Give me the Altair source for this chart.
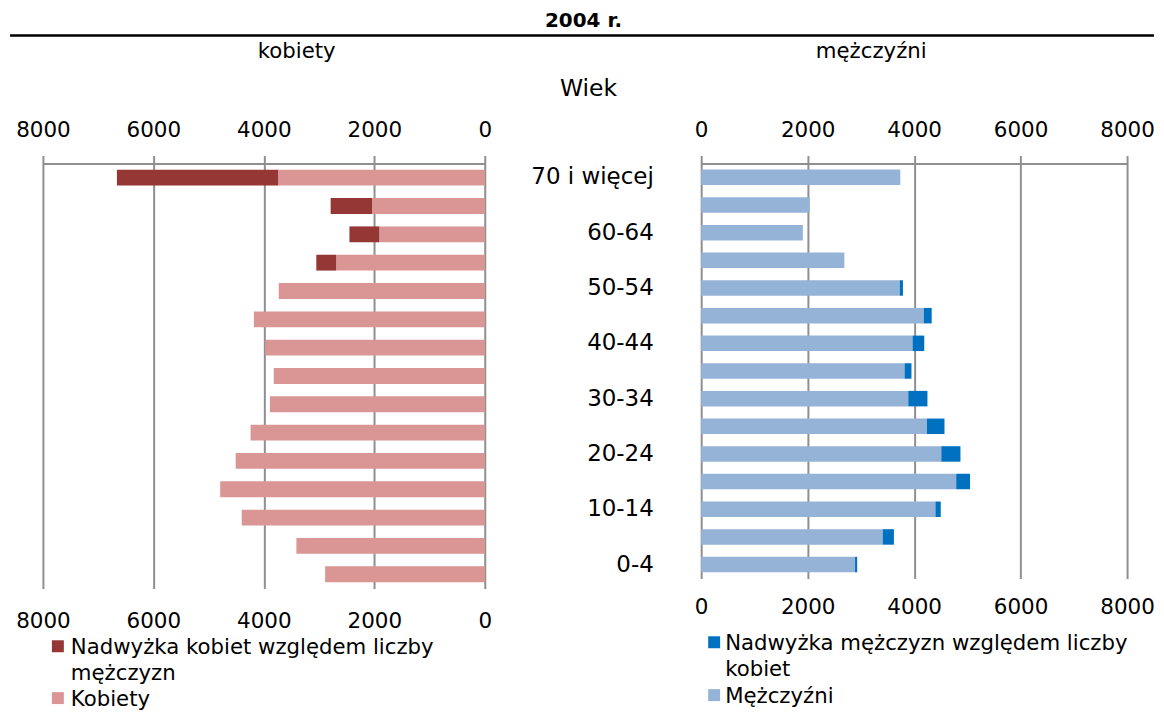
import altair as alt
import pandas as pd

# ---- data ----
ages = ["70 i więcej", "65-69", "60-64", "55-59", "50-54", "45-49", "40-44",
        "35-39", "30-34", "25-29", "20-24", "15-19", "10-14", "5-9", "0-4"]
women = [6660, 2790, 2450, 3050, 3730, 4180, 3970, 3820, 3890, 4240, 4510, 4790, 4400, 3410, 2890]
men = [3740, 2040, 1910, 2690, 3790, 4330, 4190, 3950, 4250, 4570, 4870, 5050, 4500, 3620, 2930]
x_ticks = [0, 2000, 4000, 6000, 8000]
shown_age_labels = ages[::2]

title_text = "2004 r."
left_title = "kobiety"
right_title = "mężczyźni"
axis_title = "Wiek"
left_series = ["Kobiety", "Nadwyżka kobiet względem liczby mężczyzn"]
right_series = ["Mężczyźni", "Nadwyżka mężczyzn względem liczby kobiet"]
left_legend = ["Nadwyżka kobiet względem liczby\nmężczyzn", "Kobiety"]
right_legend = ["Nadwyżka mężczyzn względem liczby\nkobiet", "Mężczyźni"]
left_colors = ["#D99694", "#953735"]
right_colors = ["#95B3D7", "#0070C0"]

FONT = "DejaVu Sans"
GRID = "#8f8f8f"

# ---- tables ----
left_rows, right_rows = [], []
for a, w, m in zip(ages, women, men):
    left_rows.append({"age": a, "series": left_series[0], "value": min(w, m), "ord": 0})
    left_rows.append({"age": a, "series": left_series[1], "value": max(w - m, 0), "ord": 1})
    right_rows.append({"age": a, "series": right_series[0], "value": min(w, m), "ord": 0})
    right_rows.append({"age": a, "series": right_series[1], "value": max(m - w, 0), "ord": 1})
df_left = pd.DataFrame(left_rows)
df_right = pd.DataFrame(right_rows)


def top_axis():
    return alt.Axis(orient="top", values=x_ticks, format="d", title=None,
                    labelFont=FONT, labelFontSize=21.5, labelColor="black",
                    labelPadding=14, labelFlush=False, labelOverlap=False,
                    grid=True, gridColor=GRID, gridWidth=2,
                    domain=True, domainColor=GRID, domainWidth=2,
                    ticks=True, tickColor=GRID, tickWidth=2, tickSize=8)


def bottom_axis(pad):
    return alt.Axis(orient="bottom", values=x_ticks, format="d", title=None,
                    labelFont=FONT, labelFontSize=21.5, labelColor="black",
                    labelPadding=pad, labelFlush=False, labelOverlap=False,
                    grid=False, domain=False, ticks=False, tickSize=0)


def bars(df, series, colors, reverse, xaxis, yaxis, opacity=1.0):
    return alt.Chart(df).mark_bar(opacity=opacity).encode(
        x=alt.X("value:Q", stack="zero",
                scale=alt.Scale(domain=[0, 8000], reverse=reverse, nice=False),
                axis=xaxis),
        y=alt.Y("age:N", sort=ages,
                scale=alt.Scale(paddingInner=0.44, paddingOuter=0.22),
                axis=yaxis),
        color=alt.Color("series:N", scale=alt.Scale(domain=series, range=colors), legend=None),
        order=alt.Order("ord:Q"),
    )


def text_at(s, x, y, size=21.3, weight="normal", align="center", baseline="middle"):
    return alt.Chart(pd.DataFrame({"t": [s]})).mark_text(
        font=FONT, fontSize=size, fontWeight=weight, align=align, baseline=baseline,
        color="black", lineBreak="\n", lineHeight=26.5
    ).encode(x=alt.value(x), y=alt.value(y), text="t:N")


def square_at(color, x, y):
    return alt.Chart(pd.DataFrame({"t": [0]})).mark_square(
        size=144, color=color, opacity=1, filled=True
    ).encode(x=alt.value(x), y=alt.value(y))


rule = alt.Chart(pd.DataFrame({"t": [0]})).mark_rule(color="black", strokeWidth=2.5).encode(
    x=alt.value(-33), x2=alt.value(1114), y=alt.value(-128.3))

age_axis = alt.Axis(title=None, values=shown_age_labels, labelFont=FONT, labelFontSize=23,
                    labelColor="black", labelPadding=48, ticks=False, domain=False,
                    grid=False, labelLimit=300)

LEG_SHIFT = -6

left = alt.layer(
    bars(df_left, left_series, left_colors, True, top_axis(), None),
    bars(df_left, left_series, left_colors, True, bottom_axis(22), None, opacity=0),
    rule,
    text_at(title_text, 542, -143, size=20, weight="bold"),
    text_at(left_title, 254.5, -112),
    text_at(axis_title, 547, -75, size=23.5),
    square_at(left_colors[1], 15, 490 + LEG_SHIFT),
    text_at(left_legend[0], 28, 497.8 + LEG_SHIFT, align="left", baseline="alphabetic"),
    square_at(left_colors[0], 15, 542 + LEG_SHIFT),
    text_at(left_legend[1], 28, 549.8 + LEG_SHIFT, align="left", baseline="alphabetic"),
).resolve_axis(x="independent", y="independent").properties(width=443, height=426)

right = alt.layer(
    bars(df_right, right_series, right_colors, False, top_axis(), age_axis),
    bars(df_right, right_series, right_colors, False, bottom_axis(18), None, opacity=0),
    text_at(right_title, 170.5, -112),
    square_at(right_colors[1], 13, 486 + LEG_SHIFT),
    text_at(right_legend[0], 24, 493.8 + LEG_SHIFT, align="left", baseline="alphabetic"),
    square_at(right_colors[0], 13, 539 + LEG_SHIFT),
    text_at(right_legend[1], 24, 546.8 + LEG_SHIFT, align="left", baseline="alphabetic"),
).resolve_axis(x="independent", y="independent").properties(width=427, height=416)

chart = alt.hconcat(left, right, spacing=217, bounds="flush").resolve_scale(
    color="independent"
).properties(
    padding={"left": 0, "top": 2, "right": 0, "bottom": 0}
).configure_view(stroke=None)

chart.save("out.html", embed_options={"renderer": "svg", "actions": False})
